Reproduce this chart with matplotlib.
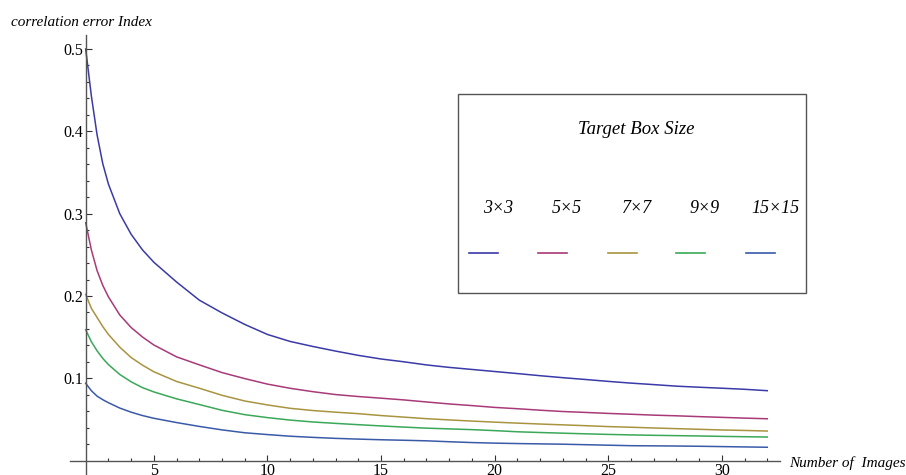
import numpy as np
import matplotlib
matplotlib.use('Agg')
import matplotlib.pyplot as plt
from matplotlib.lines import Line2D
from matplotlib.patches import Rectangle

# number of images
n_images = [2, 2.25, 2.5, 2.75, 3, 3.5, 4, 4.5, 5, 6, 7, 8, 9, 10, 11, 12, 13, 14, 15,
            16, 17, 18, 19, 20, 21, 22, 23, 24, 25, 26, 27, 28, 29, 30, 31, 32]

err_3x3 = [0.500, 0.443, 0.396, 0.361, 0.336, 0.300, 0.275, 0.256, 0.241, 0.217,
           0.195, 0.1795, 0.1655, 0.1533, 0.1448, 0.1387, 0.1331, 0.1279, 0.1235,
           0.1201, 0.1163, 0.1133, 0.1108, 0.1083, 0.1058, 0.1032, 0.1008, 0.0986,
           0.0963, 0.0942, 0.0924, 0.0905, 0.0892, 0.0880, 0.0867, 0.0850]
err_5x5 = [0.289, 0.256, 0.231, 0.213, 0.199, 0.177, 0.1617, 0.1502, 0.1405, 0.1261,
           0.1164, 0.1070, 0.0997, 0.0930, 0.0879, 0.0838, 0.0803, 0.0779, 0.0759,
           0.0738, 0.0713, 0.0689, 0.0669, 0.0647, 0.0631, 0.0613, 0.0597, 0.0586,
           0.0574, 0.0564, 0.0553, 0.0545, 0.0535, 0.0526, 0.0517, 0.0509]
err_7x7 = [0.202, 0.185, 0.174, 0.163, 0.1534, 0.1379, 0.1253, 0.116, 0.108, 0.0962,
           0.0880, 0.0794, 0.0725, 0.0677, 0.0636, 0.0609, 0.0589, 0.0571, 0.0548,
           0.0529, 0.0510, 0.0495, 0.0481, 0.0468, 0.0456, 0.0445, 0.0435, 0.0425,
           0.0414, 0.0406, 0.0397, 0.0389, 0.0381, 0.0373, 0.0367, 0.0360]
err_9x9 = [0.159, 0.1445, 0.1335, 0.1243, 0.1167, 0.1047, 0.0958, 0.0887, 0.0835,
           0.0751, 0.0682, 0.0612, 0.0559, 0.0523, 0.0493, 0.0470, 0.0453, 0.0437,
           0.0422, 0.0408, 0.0395, 0.0386, 0.0377, 0.0365, 0.0351, 0.0342, 0.0334,
           0.0326, 0.0319, 0.0313, 0.0308, 0.0304, 0.0300, 0.0295, 0.0291, 0.0287]
err_15x15 = [0.094, 0.085, 0.0784, 0.0741, 0.0704, 0.0639, 0.0589, 0.0548, 0.0515,
             0.0463, 0.0416, 0.0374, 0.0339, 0.0317, 0.0297, 0.0283, 0.0271, 0.0262,
             0.0254, 0.0248, 0.0241, 0.0230, 0.0220, 0.0213, 0.0208, 0.0204, 0.0200,
             0.0194, 0.0188, 0.0182, 0.0180, 0.0178, 0.0175, 0.0171, 0.0167, 0.0163]

box_labels = ['3×3', '5×5', '7×7', '9×9', '15×15']
colors = ['#3a3aa8', '#a83a78', '#a89440', '#3aa858', '#3a5aa8']

W, H = 906, 475
fig = plt.figure(figsize=(W / 100, H / 100), dpi=100)
serif = ['Liberation Serif', 'DejaVu Serif']


def fx(x):
    return x / W


def fy(y):
    return 1 - y / H


ax = fig.add_axes([fx(70), 0, fx(780) - fx(70), fy(35)])
for series, c in zip([err_3x3, err_5x5, err_7x7, err_9x9, err_15x15], colors):
    ax.plot(n_images, series, color=c, lw=1.1)

ax.set_xlim(1.31, 32.56)
ax.set_ylim(-0.0174, 0.517)
ax.spines['left'].set_position(('data', 2))
ax.spines['bottom'].set_position(('data', 0))
ax.spines['right'].set_visible(False)
ax.spines['top'].set_visible(False)
for s in ['left', 'bottom']:
    ax.spines[s].set_color('#555555')
    ax.spines[s].set_linewidth(1.0)

ax.set_xticks([5, 10, 15, 20, 25, 30])
ax.set_xticks([x for x in range(3, 33) if x % 5 != 0], minor=True)
ax.set_yticks([0.1, 0.2, 0.3, 0.4, 0.5])
ax.set_yticks([0.02, 0.04, 0.06, 0.08, 0.12, 0.14, 0.16, 0.18, 0.22, 0.24, 0.26, 0.28,
               0.32, 0.34, 0.36, 0.38, 0.42, 0.44, 0.46, 0.48], minor=True)
ax.set_yticklabels(['0.1', '0.2', '0.3', '0.4', '0.5'])
ax.tick_params(which='both', direction='in', color='#333333', width=0.8,
               labelsize=11.5, pad=2)
ax.tick_params(which='major', length=4)
ax.tick_params(which='minor', length=2.5)
for lab in ax.get_xticklabels() + ax.get_yticklabels():
    lab.set_family(serif)
ax.patch.set_alpha(0)

fig.text(fx(11), fy(22), 'correlation error Index', family=serif, style='italic',
         fontsize=11, ha='left', va='center')
fig.text(fx(789), fy(463), 'Number of  Images', family=serif, style='italic',
         fontsize=11, ha='left', va='center')

# legend box
fig.patches.append(Rectangle((fx(458), fy(293)), fx(806) - fx(458), fy(94) - fy(293),
                             transform=fig.transFigure, fill=False,
                             edgecolor='#555555', lw=1.0))
fig.text(fx(636), fy(130), 'Target Box Size', family=serif, style='italic',
         fontsize=13.5, ha='center', va='center')
label_x = [498, 567, 637, 705, 775]
for lx, lab, c in zip(label_x, box_labels, colors):
    fig.text(fx(lx), fy(208), lab, family=serif, style='italic', fontsize=13,
             ha='center', va='center')
    fig.lines.append(Line2D([fx(lx - 29), fx(lx)], [fy(253), fy(253)],
                            transform=fig.transFigure, color=c, lw=1.2))

fig.savefig('out.png', dpi=100)
